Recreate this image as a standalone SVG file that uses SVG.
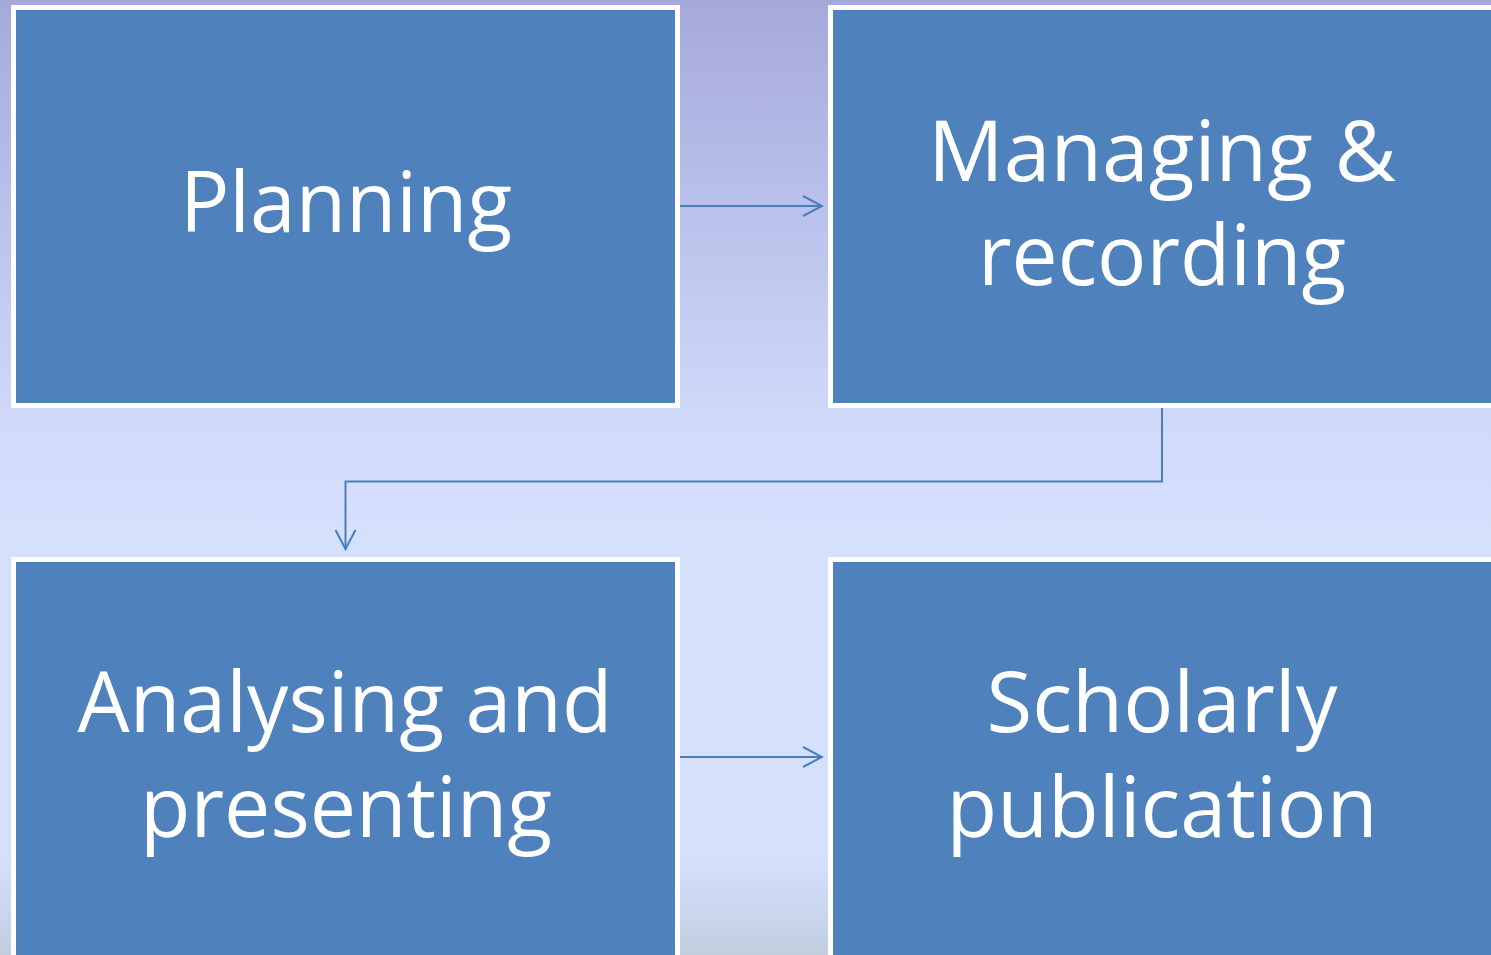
<svg xmlns="http://www.w3.org/2000/svg" width="1491" height="955" viewBox="0 0 1491 955">
  <defs>
    <linearGradient id="bg" x1="0" y1="0" x2="0" y2="955" gradientUnits="userSpaceOnUse">
      <stop offset="0" stop-color="#a5a9da"/>
      <stop offset="0.22" stop-color="#bac1eb"/>
      <stop offset="0.45" stop-color="#d1dafa"/>
      <stop offset="0.55" stop-color="#d5e0fd"/>
      <stop offset="0.9" stop-color="#d5e0fd"/>
      <stop offset="1" stop-color="#c0cedf"/>
    </linearGradient>
    <marker id="arr" viewBox="-21 -12 23 24" refX="0" refY="0" markerWidth="23" markerHeight="24" markerUnits="userSpaceOnUse" orient="auto">
      <path d="M-19,-10 L0,0 L-19,10" fill="none" stroke="#4a7ebb" stroke-width="2"/>
    </marker>
    <style>
      .box { fill: #4f81bd; stroke: #ffffff; stroke-width: 5; }
      .lbl { fill: #ffffff; font-family: "Open Sans", "Noto Sans", "Liberation Sans", sans-serif; font-size: 84px; text-anchor: middle; }
      .con { fill: none; stroke: #4a7ebb; stroke-width: 2; marker-end: url(#arr); }
    </style>
  </defs>
  <rect x="0" y="0" width="1491" height="955" fill="url(#bg)"/>

  <g id="connectors">
    <path class="con" d="M680,206 L822,206"/>
    <path class="con" d="M1162,408 L1162,481.5 L345.5,481.5 L345.5,549"/>
    <path class="con" d="M680,757 L822,757"/>
  </g>

  <g id="planning">
    <rect class="box" x="13.5" y="7.5" width="664" height="398"/>
    <text class="lbl" x="346" y="232" textLength="332" lengthAdjust="spacingAndGlyphs">Planning</text>
  </g>
  <g id="managing">
    <rect class="box" x="830.5" y="7.5" width="664" height="398"/>
    <text class="lbl" x="1162" y="181" textLength="468" lengthAdjust="spacingAndGlyphs">Managing &amp;</text>
    <text class="lbl" x="1162" y="285" textLength="368" lengthAdjust="spacingAndGlyphs">recording</text>
  </g>
  <g id="analysing">
    <rect class="box" x="13.5" y="559.5" width="664" height="398"/>
    <text class="lbl" x="345" y="732" textLength="535" lengthAdjust="spacingAndGlyphs">Analysing and</text>
    <text class="lbl" x="346" y="837" textLength="412" lengthAdjust="spacingAndGlyphs">presenting</text>
  </g>
  <g id="scholarly">
    <rect class="box" x="830.5" y="559.5" width="664" height="398"/>
    <text class="lbl" x="1162" y="732" textLength="351" lengthAdjust="spacingAndGlyphs">Scholarly</text>
    <text class="lbl" x="1162" y="837" textLength="431" lengthAdjust="spacingAndGlyphs">publication</text>
  </g>
</svg>
